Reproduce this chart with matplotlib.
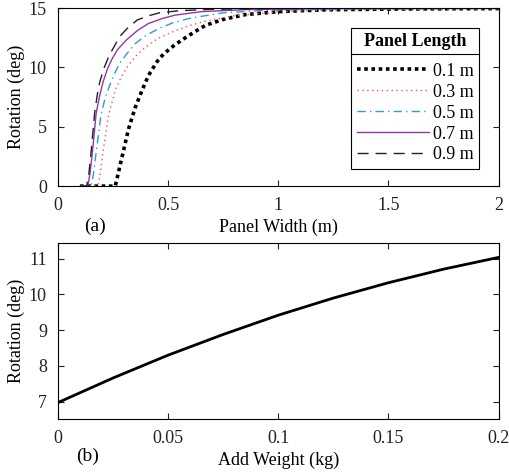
import matplotlib
matplotlib.use('Agg')
import matplotlib.pyplot as plt
from matplotlib.lines import Line2D

plt.rcParams['font.family'] = ['Liberation Serif', 'DejaVu Serif']
plt.rcParams['font.size'] = 13

# (a) rotation vs panel width, one curve per panel length
x_01 = [0.10, 0.26, 0.27, 0.29, 0.32, 0.35, 0.38, 0.41, 0.45, 0.48, 0.53, 0.57, 0.62, 0.67, 0.75, 0.85, 1.0, 1.2, 1.5, 2.0]
y_01 = [0, 0, 0.8, 2.4, 4.8, 6.6, 8.0, 9.3, 10.5, 11.15, 11.9, 12.4, 13.0, 13.55, 14.05, 14.45, 14.7, 14.85, 14.92, 14.96]

x_03 = [0.10, 0.18, 0.19, 0.205, 0.23, 0.26, 0.29, 0.32, 0.36, 0.40, 0.45, 0.52, 0.60, 0.67, 0.80, 1.0, 1.3, 2.0]
y_03 = [0, 0, 0.8, 3.0, 6.0, 8.1, 9.3, 10.2, 11.1, 11.75, 12.4, 13.0, 13.55, 13.9, 14.35, 14.7, 14.88, 14.96]

x_05 = [0.10, 0.15, 0.16, 0.175, 0.195, 0.215, 0.235, 0.26, 0.28, 0.31, 0.35, 0.40, 0.46, 0.52, 0.60, 0.75, 0.95, 1.3, 2.0]
y_05 = [0, 0, 0.9, 3.1, 6.0, 7.5, 8.5, 9.6, 10.35, 11.1, 12.0, 12.7, 13.3, 13.75, 14.15, 14.6, 14.82, 14.92, 14.97]

x_07 = [0.10, 0.135, 0.145, 0.157, 0.173, 0.19, 0.205, 0.225, 0.245, 0.27, 0.31, 0.36, 0.41, 0.47, 0.53, 0.65, 0.85, 1.2, 2.0]
y_07 = [0, 0, 1.0, 3.0, 6.1, 7.7, 8.8, 9.9, 10.7, 11.5, 12.3, 13.1, 13.7, 14.1, 14.4, 14.7, 14.87, 14.95, 14.98]

x_09 = [0.10, 0.13, 0.14, 0.151, 0.166, 0.18, 0.19, 0.21, 0.23, 0.25, 0.28, 0.32, 0.36, 0.41, 0.46, 0.55, 0.7, 1.0, 2.0]
y_09 = [0, 0, 1.0, 3.0, 6.1, 7.9, 8.8, 10.0, 10.9, 11.6, 12.6, 13.4, 14.0, 14.35, 14.6, 14.78, 14.9, 14.96, 14.99]

labels_a = ['0.1 m', '0.3 m', '0.5 m', '0.7 m', '0.9 m']

# (b) rotation vs added weight
weight = [0, 0.025, 0.05, 0.075, 0.1, 0.125, 0.15, 0.175, 0.2]
rot_b = [6.97, 7.66, 8.30, 8.88, 9.42, 9.90, 10.33, 10.71, 11.04]

fig = plt.figure(figsize=(5.1, 4.76), dpi=100)
ax1 = fig.add_axes([0.1137, 0.609, 0.864, 0.374])
ax2 = fig.add_axes([0.1137, 0.119, 0.864, 0.371])

ax1.plot(x_01, y_01, color='black', linestyle=(0, (1, 1)), lw=2.6, label=labels_a[0])
ax1.plot(x_03, y_03, color='#ff4d4d', linestyle=(0, (1, 2.5)), lw=1.0, label=labels_a[1])
ax1.plot(x_05, y_05, color='#2a9fd6', linestyle=(0, (6, 3, 1, 3)), lw=1.0, label=labels_a[2])
ax1.plot(x_07, y_07, color='#9237a8', linestyle='-', lw=1.0, label=labels_a[3])
ax1.plot(x_09, y_09, color='#222222', linestyle=(0, (8, 5)), lw=1.0, label=labels_a[4])

ax1.set_xlim(0, 2)
ax1.set_ylim(0, 15)
ax1.set_xticks([0, 0.5, 1, 1.5, 2])
ax1.set_xticklabels(['0', '0.5', '1', '1.5', '2'])
ax1.set_yticks([0, 5, 10, 15])
ax1.set_xlabel('Panel Width (m)', labelpad=3)
ax1.set_ylabel('Rotation (deg)', labelpad=3)

leg = ax1.legend(title='Panel Length', loc='upper right', bbox_to_anchor=(0.955, 0.89),
                 fancybox=False, edgecolor='black', framealpha=1, borderaxespad=0,
                 handlelength=4.0, handletextpad=0.2, labelspacing=0.22,
                 borderpad=0.3, title_fontproperties={'weight': 'bold', 'size': 13})
leg.get_frame().set_linewidth(0.8)
leg._legend_box.sep = 9

ax2.plot(weight, rot_b, color='black', lw=2.0)
ax2.set_xlim(0, 0.2)
ax2.set_ylim(6.5, 11.45)
ax2.set_xticks([0, 0.05, 0.1, 0.15, 0.2])
ax2.set_xticklabels(['0', '0.05', '0.1', '0.15', '0.2'])
ax2.set_yticks([7, 8, 9, 10, 11])
ax2.set_xlabel('Add Weight (kg)', labelpad=3)
ax2.set_ylabel('Rotation (deg)', labelpad=3)

for ax in (ax1, ax2):
    ax.tick_params(direction='in', top=True, right=True, length=4, width=0.8,
                   labelsize=13, colors='#222222', pad=8)
    for s in ax.spines.values():
        s.set_linewidth(0.8)

fig.text(95 / 510, 1 - 226 / 476, '(a)', ha='center', va='center', fontsize=14)
fig.text(88 / 510, 1 - 456 / 476, '(b)', ha='center', va='center', fontsize=14)

# separator under the legend title
fig.canvas.draw()
r = fig.canvas.get_renderer()
lb = leg.get_window_extent(r)
tb = leg.get_title().get_window_extent(r)
ysep = tb.y0 - 4
fig.add_artist(Line2D([lb.x0 / fig.bbox.width, lb.x1 / fig.bbox.width],
                      [ysep / fig.bbox.height, ysep / fig.bbox.height],
                      color='black', lw=0.8, transform=fig.transFigure))

fig.savefig('out.png', dpi=100)
